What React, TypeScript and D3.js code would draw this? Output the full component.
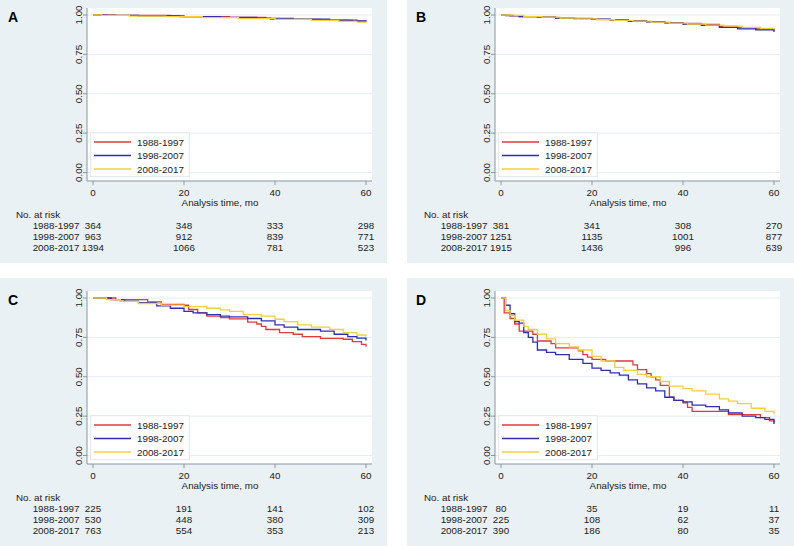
import React from "react";
import * as d3 from "d3";

type Pt = [number, number];

const seriesNames = ["1988-1997", "1998-2007", "2008-2017"];
const seriesColors = ["#e0393e", "#2e2eb4", "#f4cf3c"];
const xTicks = [0, 20, 40, 60];
const yTicks = [0, 0.25, 0.5, 0.75, 1];
const yTickLabels = ["0.00", "0.25", "0.50", "0.75", "1.00"];
const panelLetters = ["A", "B", "C", "D"];

// Panel A
const aRed: Pt[] = [[0, 1], [5, 0.997], [17, 0.994], [19, 0.99], [30, 0.985], [38, 0.98], [39, 0.972], [50, 0.968], [56, 0.965], [57, 0.96], [60, 0.958]];
const aBlue: Pt[] = [[0, 1], [3, 0.998], [10, 0.995], [20, 0.99], [28, 0.985], [36, 0.978], [44, 0.973], [52, 0.968], [58, 0.962], [60, 0.958]];
const aYellow: Pt[] = [[0, 1], [2, 0.997], [8, 0.993], [16, 0.99], [24, 0.983], [32, 0.977], [40, 0.972], [48, 0.966], [54, 0.96], [58, 0.955], [60, 0.952]];
const aRisk = [[364, 348, 333, 298], [963, 912, 839, 771], [1394, 1066, 781, 523]];

// Panel B
const bRed: Pt[] = [[0, 1], [2, 0.995], [4, 0.99], [8, 0.987], [12, 0.982], [16, 0.978], [20, 0.972], [24, 0.968], [28, 0.962], [32, 0.958], [36, 0.952], [40, 0.946], [44, 0.94], [48, 0.928], [52, 0.92], [56, 0.912], [60, 0.902]];
const bBlue: Pt[] = [[0, 1], [1, 0.996], [4, 0.99], [8, 0.986], [12, 0.981], [16, 0.977], [20, 0.973], [24, 0.969], [28, 0.962], [32, 0.956], [36, 0.95], [40, 0.943], [44, 0.934], [48, 0.922], [52, 0.912], [56, 0.905], [60, 0.892]];
const bYellow: Pt[] = [[0, 1], [3, 0.997], [5, 0.99], [9, 0.986], [13, 0.981], [17, 0.976], [21, 0.97], [25, 0.966], [29, 0.961], [33, 0.955], [37, 0.949], [41, 0.943], [45, 0.936], [49, 0.929], [53, 0.922], [57, 0.915], [60, 0.908]];
const bRisk = [[381, 341, 308, 270], [1251, 1135, 1001, 877], [1915, 1436, 996, 639]];

// Panel C
const cRed: Pt[] = [[0, 1], [5, 0.99], [12, 0.975], [15, 0.96], [20, 0.954], [21, 0.927], [23, 0.905], [25, 0.885], [28, 0.875], [30, 0.868], [34, 0.847], [36, 0.835], [37, 0.82], [38, 0.8], [41, 0.78], [44, 0.77], [46, 0.755], [50, 0.744], [55, 0.738], [57, 0.723], [59, 0.706], [60, 0.69]];
const cBlue: Pt[] = [[0, 1], [4, 0.99], [7, 0.98], [10, 0.97], [14, 0.95], [17, 0.935], [20, 0.915], [22, 0.905], [25, 0.895], [28, 0.885], [30, 0.88], [34, 0.87], [37, 0.855], [40, 0.83], [42, 0.815], [45, 0.8], [50, 0.79], [53, 0.77], [56, 0.755], [58, 0.745], [60, 0.73]];
const cYellow: Pt[] = [[0, 1], [3, 0.99], [6, 0.978], [10, 0.965], [15, 0.955], [20, 0.945], [25, 0.935], [28, 0.925], [30, 0.915], [33, 0.895], [37, 0.885], [40, 0.865], [42, 0.85], [45, 0.83], [48, 0.815], [52, 0.8], [55, 0.78], [58, 0.765], [60, 0.755]];
const cRisk = [[225, 191, 141, 102], [530, 448, 380, 309], [763, 554, 353, 213]];

// Panel D
const dRed: Pt[] = [[0, 1], [0.7, 0.906], [2, 0.87], [3, 0.835], [4, 0.79], [7, 0.77], [8, 0.727], [11, 0.71], [12, 0.683], [17, 0.665], [18, 0.64], [19, 0.625], [20, 0.61], [23, 0.6], [29, 0.575], [30, 0.545], [32, 0.52], [33, 0.5], [34, 0.48], [35, 0.445], [37, 0.371], [38, 0.35], [40, 0.335], [41, 0.305], [42, 0.28], [50, 0.26], [57, 0.24], [59, 0.22], [60, 0.21]];
const dBlue: Pt[] = [[0, 1], [1, 0.954], [2, 0.9], [3, 0.85], [4, 0.84], [5, 0.78], [6, 0.75], [7, 0.72], [8, 0.67], [10, 0.655], [12, 0.64], [15, 0.61], [18, 0.585], [20, 0.555], [22, 0.54], [24, 0.525], [26, 0.51], [28, 0.48], [30, 0.455], [32, 0.43], [34, 0.41], [36, 0.37], [38, 0.35], [40, 0.34], [42, 0.32], [45, 0.31], [48, 0.29], [50, 0.27], [53, 0.25], [56, 0.24], [58, 0.23], [60, 0.2]];
const dYellow: Pt[] = [[0, 1], [1, 0.92], [2, 0.89], [3, 0.86], [5, 0.82], [6, 0.8], [8, 0.77], [10, 0.74], [12, 0.71], [15, 0.69], [17, 0.67], [20, 0.63], [22, 0.6], [25, 0.56], [27, 0.54], [30, 0.515], [32, 0.5], [35, 0.47], [37, 0.44], [40, 0.425], [42, 0.41], [45, 0.39], [48, 0.36], [50, 0.345], [52, 0.33], [55, 0.3], [58, 0.28], [60, 0.26]];
const dRisk = [[80, 35, 19, 11], [225, 108, 62, 37], [390, 186, 80, 35]];

const panelCurves: Pt[][][] = [
  [aRed, aBlue, aYellow],
  [bRed, bBlue, bYellow],
  [cRed, cBlue, cYellow],
  [dRed, dBlue, dYellow],
];
const panelRisk = [aRisk, bRisk, cRisk, dRisk];

const FONT = "'Liberation Sans', Arial, sans-serif";
const FS = 9.8;

function Panel({ idx, dx, dy }: { idx: number; dx: number; dy: number }) {
  const x = d3.scaleLinear().domain([0, 60]).range([93, 366]);
  const y = d3.scaleLinear().domain([0, 1]).range([172.5, 15]);
  const line = d3
    .line<Pt>()
    .x((d) => x(d[0]))
    .y((d) => y(d[1]))
    .curve(d3.curveStepAfter);
  const plotL = 87, plotR = 372, plotT = 8, plotB = 181;
  const curves = panelCurves[idx];
  const risk = panelRisk[idx];
  return (
    <g transform={`translate(${dx},${dy})`}>
      <rect x={-1} y={-5} width={388} height={268} fill="#eaf1f4" />
      <rect x={plotL} y={plotT} width={plotR - plotL} height={plotB - plotT} fill="#ffffff" />
      {yTicks.map((t) => (
        <line key={"g" + t} x1={plotL} x2={plotR} y1={y(t)} y2={y(t)} stroke="#e6edf1" strokeWidth={1} />
      ))}
      {curves.map((c, i) => (
        <path key={"c" + i} d={line(c) || ""} fill="none" stroke={seriesColors[i]} strokeWidth={1.3} />
      ))}
      {/* axes */}
      <line x1={plotL} x2={plotL} y1={plotT} y2={plotB} stroke="#8a959e" strokeWidth={1} />
      <line x1={plotL} x2={plotR} y1={plotB} y2={plotB} stroke="#8a959e" strokeWidth={1} />
      {yTicks.map((t, i) => (
        <g key={"yt" + t}>
          <line x1={plotL - 4} x2={plotL} y1={y(t)} y2={y(t)} stroke="#8a959e" strokeWidth={1} />
          <text
            transform={`translate(82,${y(t)}) rotate(-90)`}
            textAnchor="middle"
            fontFamily={FONT}
            fontSize={FS}
            fill="#1a1a1a"
          >
            {yTickLabels[i]}
          </text>
        </g>
      ))}
      {xTicks.map((t) => (
        <g key={"xt" + t}>
          <line x1={x(t)} x2={x(t)} y1={plotB} y2={plotB + 4} stroke="#8a959e" strokeWidth={1} />
          <text x={x(t)} y={196} textAnchor="middle" fontFamily={FONT} fontSize={FS} fill="#1a1a1a">
            {t}
          </text>
        </g>
      ))}
      <text x={220} y={205.5} textAnchor="middle" fontFamily={FONT} fontSize={FS} fill="#1a1a1a">
        Analysis time, mo
      </text>
      {/* legend */}
      <rect x={90.7} y={132.7} width={98.6} height={44} fill="#ffffff" stroke="#dfe6ea" strokeWidth={1} />
      {seriesNames.map((n, i) => (
        <g key={"lg" + i}>
          <line x1={94} x2={131} y1={142 + i * 13.5} y2={142 + i * 13.5} stroke={seriesColors[i]} strokeWidth={1.3} />
          <text x={137} y={142 + i * 13.5 + 3.5} fontFamily={FONT} fontSize={FS} fill="#1a1a1a">
            {n}
          </text>
        </g>
      ))}
      {/* panel letter */}
      <text x={8} y={21.7} fontFamily={FONT} fontSize={14} fontWeight="bold" fill="#000">
        {panelLetters[idx]}
      </text>
      {/* risk table */}
      <text x={16} y={217.5} fontFamily={FONT} fontSize={FS} fill="#1a1a1a">
        No. at risk
      </text>
      {seriesNames.map((n, r) => (
        <g key={"rk" + r}>
          <text x={79.5} y={228.5 + r * 11} textAnchor="end" fontFamily={FONT} fontSize={FS} fill="#1a1a1a">
            {n}
          </text>
          {risk[r].map((v, k) => (
            <text key={k} x={x(xTicks[k])} y={228.5 + r * 11} textAnchor="middle" fontFamily={FONT} fontSize={FS} fill="#1a1a1a">
              {v}
            </text>
          ))}
        </g>
      ))}
    </g>
  );
}

export default function App() {
  return (
    <svg
      width={794}
      height={546}
      viewBox="0 0 794 546"
      style={{ position: "absolute", left: 0, top: 0, background: "#ffffff" }}
    >
      <rect x={0} y={0} width={794} height={546} fill="#ffffff" />
      <Panel idx={0} dx={0} dy={0} />
      <Panel idx={1} dx={408} dy={0} />
      <Panel idx={2} dx={0} dy={283} />
      <Panel idx={3} dx={408} dy={283} />
    </svg>
  );
}
